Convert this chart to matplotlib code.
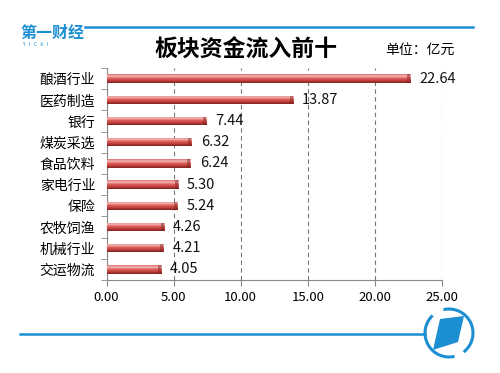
import matplotlib.pyplot as plt
import numpy as np
from matplotlib.patches import Arc, Polygon
from matplotlib.lines import Line2D

plt.rcParams['font.family'] = ['Noto Sans CJK SC', 'DejaVu Sans']

# data (top to bottom)
sectors = ['酿酒行业', '医药制造', '银行', '煤炭采选', '食品饮料',
           '家电行业', '保险', '农牧饲渔', '机械行业', '交运物流']
inflow = [22.64, 13.87, 7.44, 6.32, 6.24, 5.30, 5.24, 4.26, 4.21, 4.05]
xticks = [0, 5, 10, 15, 20, 25]

W, H = 500, 373
fig = plt.figure(figsize=(5, 3.73), dpi=100)
ax = fig.add_axes([106.5 / W, 1 - 280 / H, (442 - 106.5) / W, (280 - 68) / H])

y = np.arange(len(sectors))
bars = ax.barh(y, inflow, height=0.4, color='#c0504d', zorder=3)

# cylinder-like shading inside each bar (light on top, dark underneath)
grad = np.linspace(0, 1, 64).reshape(-1, 1)
cmap = plt.matplotlib.colors.LinearSegmentedColormap.from_list(
    'cyl', [(0, '#d96a66'), (0.25, '#f6c2c0'), (0.45, '#e0605c'),
            (0.75, '#c0403d'), (1, '#7a1e1c')])
for b in bars:
    x0, y0 = b.get_x(), b.get_y()
    w, h = b.get_width(), b.get_height()
    im = ax.imshow(grad, cmap=cmap, aspect='auto', origin='lower',
                   extent=[x0, x0 + w, y0, y0 + h], zorder=4,
                   interpolation='bicubic')
    im.set_clip_path(b)
    # darker end cap
    ax.barh(b.get_y() + h / 2, 0.22, left=x0 + w - 0.22, height=h,
            color='#7a2220', alpha=0.45, zorder=5)

for yi, v in zip(y, inflow):
    ax.text(v + 0.7, yi, f'{v:.2f}', va='center', ha='left',
            fontsize=10.5, color='#111111', zorder=6)

ax.set_xlim(0, 25)
ax.set_ylim(len(sectors) - 0.5, -0.5)
ax.set_xticks(xticks)
ax.set_xticklabels([f'{t:.2f}' for t in xticks], fontsize=9.5)
ax.set_yticks(y)
ax.set_yticklabels(sectors, fontsize=10)
ax.set_yticks(np.arange(-0.5, len(sectors), 1), minor=True)
ax.tick_params(axis='y', which='major', length=0, pad=8)
ax.tick_params(axis='y', which='minor', length=4, color='#888888')
ax.tick_params(axis='x', length=4, color='#888888', pad=4)
ax.xaxis.grid(True, linestyle=(0, (4, 3)), color='#777777', linewidth=0.8, zorder=1)
for s in ['top', 'right']:
    ax.spines[s].set_visible(False)
for s in ['left', 'bottom']:
    ax.spines[s].set_color('#888888')

blue = '#1b8fd2'


def px(x, yy):
    return x / W, 1 - yy / H


# top line, logo and titles
fig.add_artist(Line2D([85 / W, 473 / W], [1 - 27 / H] * 2, color=blue, lw=1.8))
fig.text(*px(20, 33), '第一财经', color=blue, fontsize=11.5, fontweight='bold',
         va='center', ha='left')
fig.text(*px(23, 44), 'Y   I   C   A   I', color=blue, fontsize=3.5,
         va='center', ha='left')
fig.text(*px(246, 50), '板块资金流入前十', fontsize=16.5, fontweight='bold',
         ha='center', va='center')
fig.text(*px(420, 50), '单位：亿元', fontsize=10, ha='center', va='center')

# bottom line and round logo
fig.add_artist(Line2D([20 / W, 425 / W], [1 - 334 / H] * 2, color=blue, lw=1.8))
cx, cy = px(449, 333)
r = 24
for t1, t2 in [(-60, 100), (125, 280)]:
    fig.add_artist(Arc((cx, cy), 2 * r / W, 2 * r / H, theta1=t1, theta2=t2,
                       transform=fig.transFigure, color=blue, lw=2.2))
pts = [px(440, 319), px(464, 316), px(458, 342), px(433, 350)]
fig.add_artist(Polygon(pts, closed=True, transform=fig.transFigure,
                       facecolor=blue, edgecolor='none'))

fig.savefig('out.png', dpi=100)
